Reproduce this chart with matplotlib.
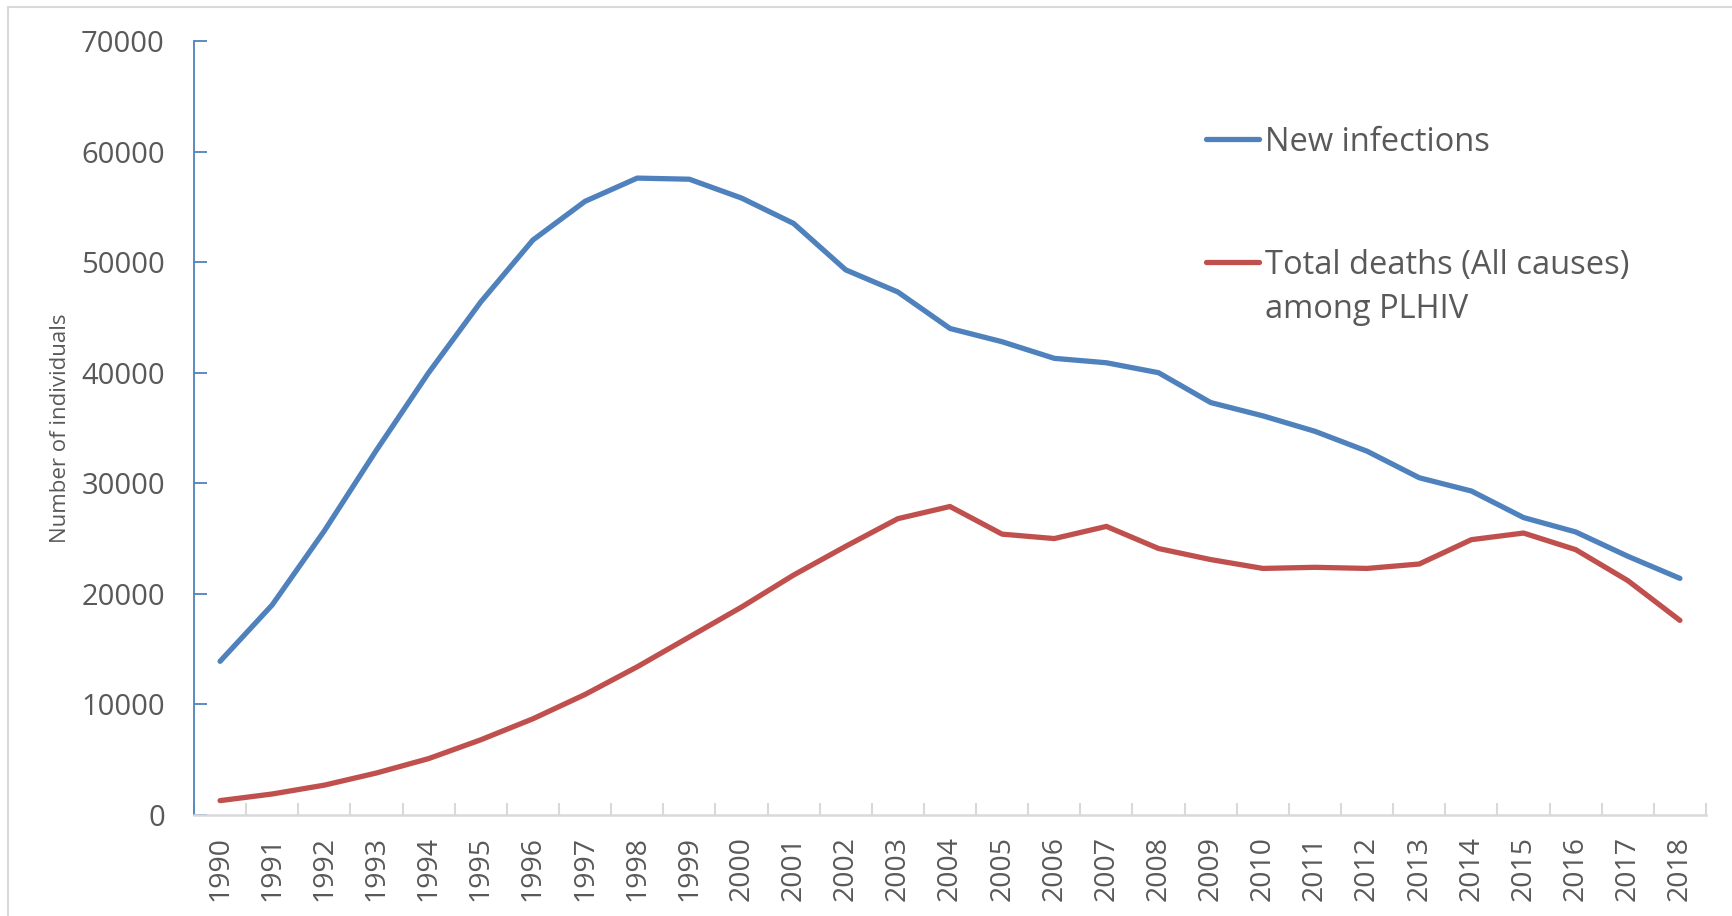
import matplotlib
matplotlib.use("Agg")
import matplotlib.pyplot as plt
from matplotlib.lines import Line2D
from matplotlib.patches import Rectangle
import numpy as np

plt.rcParams['font.family'] = ['Open Sans', 'DejaVu Sans']

years = [str(y) for y in range(1990, 2019)]
new_infections = [13900, 19000, 25700, 33000, 40000, 46400, 52000, 55500, 57600, 57500,
                  55800, 53500, 49300, 47300, 44000, 42800, 41300, 40900, 40000, 37300,
                  36100, 34700, 32900, 30500, 29300, 26900, 25600, 23400, 21400]
total_deaths = [1300, 1900, 2700, 3800, 5100, 6800, 8700, 10900, 13400, 16100,
                18800, 21700, 24300, 26800, 27900, 25400, 25000, 26100, 24100, 23100,
                22300, 22400, 22300, 22700, 24900, 25500, 24000, 21200, 17600]
y_ticks = [0, 10000, 20000, 30000, 40000, 50000, 60000, 70000]
series_labels = ["New infections", "Total deaths (All causes)", "among PLHIV"]

BLUE = "#4f81bd"
RED = "#c0504d"
TEXT = "#595959"
GRID = "#d9d9d9"
LW = 3.8

W, H = 1732, 916
fig = plt.figure(figsize=(W / 100, H / 100), dpi=100)

# chart-area border
fig.patches.append(Rectangle((8 / W, -0.1), 1.2, 1 - 7 / H + 0.1,
                             transform=fig.transFigure, fill=False,
                             edgecolor=GRID, linewidth=1.5))

ax = fig.add_axes([194 / W, 1 - 815 / H, (1706 - 194) / W, (815 - 41) / H])
x = np.arange(len(years))
ax.plot(x, new_infections, color=BLUE, linewidth=LW, solid_capstyle='round',
        solid_joinstyle='round')
ax.plot(x, total_deaths, color=RED, linewidth=LW, solid_capstyle='round',
        solid_joinstyle='round')

ax.set_xlim(-0.5, len(years) - 0.5)
ax.set_ylim(0, 70000)

for s in ('top', 'right'):
    ax.spines[s].set_visible(False)
ax.spines['left'].set_color(BLUE)
ax.spines['left'].set_linewidth(1.3)
ax.spines['bottom'].set_color(GRID)
ax.spines['bottom'].set_linewidth(1.8)

ax.set_yticks(y_ticks)
ax.set_yticklabels([str(v) for v in y_ticks])
ax.tick_params(axis='y', direction='in', length=9, width=1.3, color=BLUE,
               labelsize=21, labelcolor=TEXT, pad=21)

ax.set_xticks(x)
ax.set_xticklabels(years, rotation=90)
ax.tick_params(axis='x', which='major', length=0, labelsize=20.5,
               labelcolor=TEXT, pad=15)
ax.set_xticks(np.arange(-0.5, len(years)), minor=True)
ax.tick_params(axis='x', which='minor', direction='in', length=9, width=1.5,
               color=GRID)

fig.text(61 / W, 1 - 428 / H, "Number of individuals", rotation=90,
         ha='center', va='center', fontsize=16, color=TEXT)

# legend entries
FS_LEG = 23.5
TXT_SHIFT = 3
for ypix, label, col in [(139, series_labels[0], BLUE), (262, series_labels[1], RED)]:
    fy = 1 - ypix / H
    fig.add_artist(Line2D([1206 / W, 1259 / W], [fy, fy], transform=fig.transFigure,
                          color=col, linewidth=LW, solid_capstyle='round'))
    fig.text(1265 / W, fy - TXT_SHIFT / H, label, ha='left', va='center',
             fontsize=FS_LEG, color=TEXT)
fig.text(1265 / W, 1 - (306 + TXT_SHIFT) / H, series_labels[2], ha='left',
         va='center', fontsize=FS_LEG, color=TEXT)

fig.savefig("out.png", dpi=100)
